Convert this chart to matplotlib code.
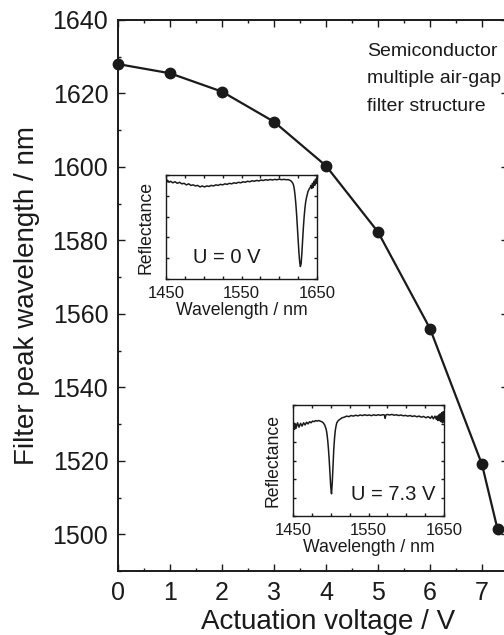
import matplotlib
matplotlib.use('Agg')
import matplotlib.pyplot as plt
import numpy as np
from matplotlib.ticker import MultipleLocator, NullFormatter

plt.rcParams['font.family'] = ['Liberation Sans', 'DejaVu Sans']

# filter tuning: peak wavelength vs actuation voltage
voltage = [0, 1, 2, 3, 4, 5, 6, 7, 7.3]
peak_nm = [1628.0, 1625.5, 1620.5, 1612.3, 1600.3, 1582.3, 1556.0, 1519.0, 1501.3]

# measured reflectance spectra (normalised), U = 0 V
spec_0v = [
    (1450, 0.97), (1451, 0.93), (1452, 0.95), (1454, 0.93), (1456, 0.94), (1459, 0.925),
    (1462, 0.935), (1465, 0.92), (1468, 0.93), (1471, 0.915), (1474, 0.92), (1477, 0.905),
    (1480, 0.915), (1483, 0.90), (1486, 0.905), (1489, 0.895), (1492, 0.90), (1495, 0.885),
    (1498, 0.895), (1501, 0.885), (1504, 0.895), (1507, 0.89), (1510, 0.90), (1513, 0.895),
    (1516, 0.905), (1519, 0.90), (1522, 0.91), (1525, 0.905), (1528, 0.915), (1531, 0.91),
    (1534, 0.92), (1537, 0.915), (1540, 0.925), (1543, 0.92), (1546, 0.93), (1549, 0.925),
    (1552, 0.935), (1555, 0.93), (1558, 0.94), (1561, 0.935), (1564, 0.945), (1567, 0.94),
    (1570, 0.948), (1573, 0.943), (1576, 0.952), (1579, 0.947), (1582, 0.955), (1585, 0.95),
    (1588, 0.957), (1591, 0.952), (1594, 0.958), (1597, 0.954), (1600, 0.96), (1603, 0.955),
    (1606, 0.958), (1609, 0.955), (1612, 0.955), (1614, 0.95), (1616, 0.94), (1618, 0.92),
    (1619, 0.90), (1620, 0.86), (1621, 0.80), (1622, 0.72), (1623, 0.62), (1624, 0.50),
    (1625, 0.38), (1626, 0.26), (1627, 0.17), (1628, 0.12), (1629, 0.15), (1630, 0.25),
    (1631, 0.38), (1632, 0.50), (1633, 0.60), (1634, 0.68), (1635, 0.74), (1636, 0.78),
    (1637, 0.81), (1638, 0.84), (1640, 0.87), (1641, 0.88), (1642, 0.90), (1643, 0.87),
    (1644, 0.92), (1645, 0.88), (1646, 0.94), (1647, 0.90), (1648, 0.96), (1649, 0.92),
    (1650, 0.98),
]

# U = 7.3 V
spec_73v = [
    (1450, 0.80), (1451, 0.84), (1452, 0.78), (1453, 0.83), (1454, 0.79), (1456, 0.84),
    (1458, 0.80), (1460, 0.835), (1462, 0.81), (1464, 0.84), (1466, 0.82), (1468, 0.845),
    (1470, 0.83), (1472, 0.85), (1474, 0.84), (1476, 0.855), (1478, 0.85), (1480, 0.86),
    (1482, 0.855), (1484, 0.86), (1486, 0.855), (1488, 0.85), (1490, 0.84), (1492, 0.82),
    (1494, 0.78), (1495, 0.74), (1496, 0.68), (1497, 0.60), (1498, 0.50), (1499, 0.38),
    (1500, 0.26), (1501, 0.20), (1502, 0.30), (1503, 0.45), (1504, 0.60), (1505, 0.70),
    (1506, 0.77), (1507, 0.81), (1508, 0.84), (1510, 0.86), (1512, 0.87), (1515, 0.885),
    (1518, 0.89), (1521, 0.90), (1524, 0.895), (1527, 0.905), (1530, 0.90), (1533, 0.908),
    (1536, 0.902), (1539, 0.91), (1542, 0.905), (1545, 0.912), (1548, 0.906), (1551, 0.91),
    (1554, 0.904), (1557, 0.912), (1560, 0.906), (1563, 0.912), (1566, 0.907), (1569, 0.913),
    (1571, 0.91), (1572, 0.88), (1573, 0.91), (1575, 0.915), (1578, 0.91), (1581, 0.915),
    (1584, 0.908), (1587, 0.912), (1590, 0.905), (1593, 0.91), (1596, 0.903), (1599, 0.906),
    (1602, 0.90), (1605, 0.905), (1608, 0.897), (1611, 0.902), (1614, 0.894), (1617, 0.90),
    (1620, 0.89), (1623, 0.897), (1626, 0.885), (1629, 0.895), (1632, 0.88), (1634, 0.90),
    (1636, 0.875), (1638, 0.90), (1640, 0.87), (1641, 0.90), (1642, 0.86), (1643, 0.91),
    (1644, 0.86), (1645, 0.92), (1646, 0.85), (1647, 0.93), (1648, 0.84), (1649, 0.94),
    (1650, 0.85),
]

ink = '#1a1a1a'
W, H = 504, 635


def px_axes(fig, left, top, right, bottom):
    return fig.add_axes([left / W, 1 - bottom / H, (right - left) / W, (bottom - top) / H])


def style_ticks(ax, major, minor, width):
    for side in ('left', 'right', 'top', 'bottom'):
        ax.spines[side].set_linewidth(width)
        ax.spines[side].set_color(ink)
    ax.tick_params(which='both', direction='in', top=True, right=True, colors=ink)
    ax.tick_params(which='major', length=major, width=1.0)
    ax.tick_params(which='minor', length=minor, width=1.0)


fig = plt.figure(figsize=(W / 100, H / 100), dpi=100)

ax = px_axes(fig, 118, 20, 508, 571)
ax.plot(voltage, peak_nm, '-o', color=ink, lw=1.6, ms=7.5, mfc=ink, mec=ink, clip_on=False)
ax.set_xlim(0, 7.5)
ax.set_ylim(1490, 1640)
ax.xaxis.set_major_locator(MultipleLocator(1))
ax.xaxis.set_minor_locator(MultipleLocator(0.5))
ax.yaxis.set_major_locator(MultipleLocator(20))
ax.yaxis.set_minor_locator(MultipleLocator(10))
style_ticks(ax, 5, 2.5, 1.4)
ax.tick_params(which='major', labelsize=18, pad=7, labelcolor=ink)
ax.set_xlabel('Actuation voltage / V', fontsize=20, color=ink)
ax.set_ylabel('Filter peak wavelength / nm', fontsize=20, color=ink)
ax.xaxis.set_label_coords((328 - 118) / 390, -(609 - 571) / 551)
ax.yaxis.set_label_coords(-(118 - 40) / 390, 0.5)

fig.text(367 / W, 1 - 43 / H, 'Semiconductor\nmultiple air-gap\nfilter structure',
         fontsize=14, color=ink, va='top', ha='left', linespacing=1.8)


def spectrum_inset(box, spec, label, nticks):
    a = px_axes(fig, *box)
    wl = [p[0] for p in spec]
    refl = [p[1] for p in spec]
    a.plot(wl, refl, color=ink, lw=1.1)
    a.set_xlim(1450, 1650)
    a.set_ylim(0, 1)
    a.set_xticks([1450, 1550, 1650])
    a.xaxis.set_minor_locator(MultipleLocator(25))
    a.set_yticks(np.linspace(0, 1, nticks + 1))
    a.yaxis.set_major_formatter(NullFormatter())
    style_ticks(a, 2.5, 2.5, 1.0)
    a.tick_params(labelsize=12, pad=5, labelcolor=ink)
    a.set_xlabel('Wavelength / nm', fontsize=12.7, color=ink, labelpad=1)
    a.set_ylabel('Reflectance', fontsize=12.7, color=ink, labelpad=3)
    a.text(*label[1], label[0], transform=a.transAxes, fontsize=14.5, color=ink,
           ha='right', va='baseline')
    return a


spectrum_inset((166, 175, 317, 279), spec_0v, ('U = 0 V', (0.623, 0.15)), 5)
spectrum_inset((293, 405, 444, 516), spec_73v, ('U = 7.3 V', (0.94, 0.145)), 6)

fig.savefig('out.png', dpi=100)
